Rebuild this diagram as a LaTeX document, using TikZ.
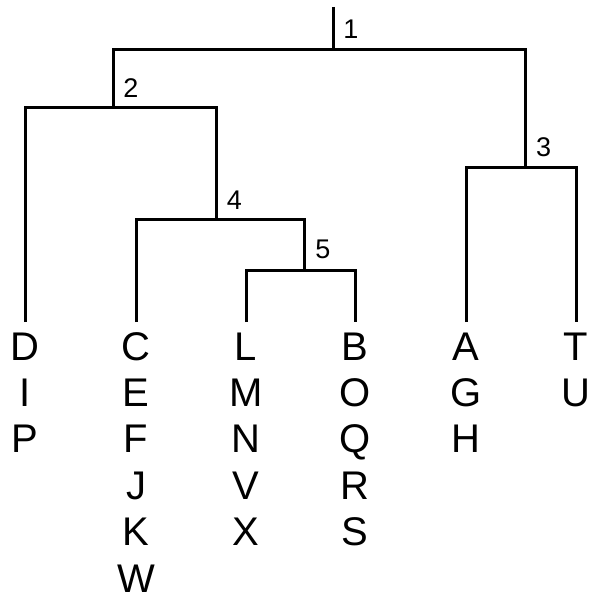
\documentclass[tikz,border=0pt]{standalone}
\usepackage{fontspec}
\setmainfont{Liberation Sans}
\begin{document}
\begin{tikzpicture}[x=1pt,y=-1pt,
  branch/.style={line width=3pt,line join=miter},
  leafname/.style={inner sep=0pt,anchor=base,font=\fontsize{40}{46}\selectfont},
  cladenum/.style={inner sep=0pt,anchor=center,font=\fontsize{27}{32}\selectfont}]
  \useasboundingbox (0,0) rectangle (590,596);

  % internal junctions (at the level of their crossbars)
  \coordinate (root) at (333,7);
  \coordinate (n1) at (333,50);
  \coordinate (n2) at (113,108);
  \coordinate (n3) at (525,167);
  \coordinate (n4) at (216,219);
  \coordinate (n5) at (304,270);

  % tips of the terminal branches
  \coordinate (tD) at (25,322);
  \coordinate (tC) at (136,322);
  \coordinate (tL) at (246,322);
  \coordinate (tB) at (355,322);
  \coordinate (tA) at (466,322);
  \coordinate (tT) at (576,322);

  % branches
  \draw[branch] (root) -- (n1);
  \draw[branch] (n2) |- (n1) -| (n3);
  \draw[branch] (tD) |- (n2) -| (n4);
  \draw[branch] (tC) |- (n4) -| (n5);
  \draw[branch] (tL) |- (n5) -| (tB);
  \draw[branch] (tA) |- (n3) -| (tT);

  % clade numbers
  \node[cladenum] (k1) at (351,29.5) {1};
  \node[cladenum] (k2) at (131,88) {2};
  \node[cladenum] (k3) at (543.5,147) {3};
  \node[cladenum] (k4) at (234.5,200.5) {4};
  \node[cladenum] (k5) at (323,249.5) {5};

  % members of each terminal group
  \foreach \col/\names in {25/{D,I,P},136/{C,E,F,J,K,W},246/{L,M,N,V,X},
                           355/{B,O,Q,R,S},466/{A,G,H},576/{T,U}} {
    \foreach \nm [count=\k from 0] in \names {
      \node[leafname] (leaf\nm) at (\col,360+46.4*\k) {\nm};
    }
  }
\end{tikzpicture}
\end{document}
